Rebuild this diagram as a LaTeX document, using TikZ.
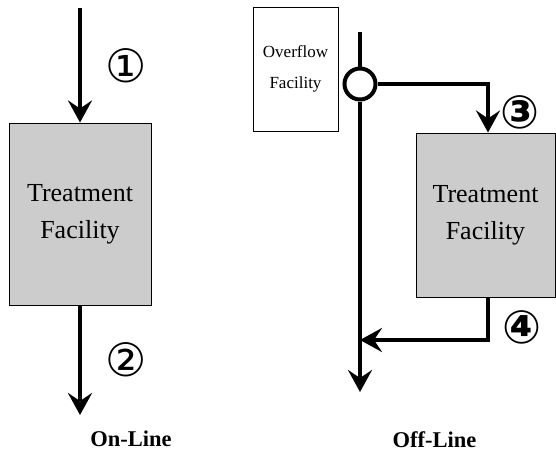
\documentclass[tikz,border=0pt]{standalone}
\usepackage{fontspec}
\setmainfont{Liberation Serif}
\newfontfamily\numfont{DejaVu Sans}
\usetikzlibrary{arrows.meta}
\definecolor{boxgray}{RGB}{204,204,204}

\begin{document}
\begin{tikzpicture}[x=1pt,y=-1pt,
  pipe/.style={line width=3.5pt},
  flow/.style={pipe,-{Stealth[length=22pt,width=24pt,inset=8pt]}},
  plant/.style={draw,line width=1pt,fill=boxgray,inner sep=0pt,align=center,font=\fontsize{26}{37}\selectfont},
  tag/.style={font=\numfont\fontsize{46}{46}\selectfont,inner sep=0pt},
  boldtag/.style={tag,font=\numfont\bfseries\fontsize{46}{46}\selectfont},
  caption/.style={font=\bfseries\fontsize{22.5}{22.5}\selectfont,anchor=base}]
  \useasboundingbox (0,0) rectangle (556,452);

  % on-line
  \node[plant,minimum width=142pt,minimum height=182pt] (tf1) at (80,214) {Treatment\\Facility};
  \coordinate (in1) at (80,8);
  \coordinate (out1) at (80,415);
  \draw[flow] (in1) -- (tf1.north);
  \draw[flow] (tf1.south) -- (out1);
  \node[tag] (n1) at (126,66) {①};
  \node[tag] (n2) at (126,360) {②};
  \node[caption] (on) at (131,446) {On-Line};

  % off-line
  \node[draw,line width=0.8pt,minimum width=85pt,minimum height=124pt,align=center,
    font=\fontsize{17}{31}\selectfont] (ovf) at (295.5,69) {Overflow\\Facility};
  \node[draw,circle,line width=4pt,fill=white,minimum size=31pt,inner sep=0pt] (jn) at (360,84) {};
  \coordinate (in2) at (360,32);
  \coordinate (out2) at (360,392);
  \node[plant,minimum width=139pt,minimum height=164pt] (tf2) at (485.5,215) {Treatment\\Facility};
  \coordinate (c3) at (488,84);
  \coordinate (c4) at (488,340);
  \draw[pipe] (in2) -- (jn.north);
  \draw[flow] (jn.south) -- (out2);
  \draw[flow] (jn.east) -- (c3) -- (c3 |- tf2.north);
  \draw[flow] (c3 |- tf2.south) -- (c4) -- (c4 -| jn);
  \node[boldtag] (n3) at (520,112) {③};
  \node[boldtag] (n4) at (522,327) {④};
  \node[caption] (off) at (434.5,447) {Off-Line};
\end{tikzpicture}
\end{document}
